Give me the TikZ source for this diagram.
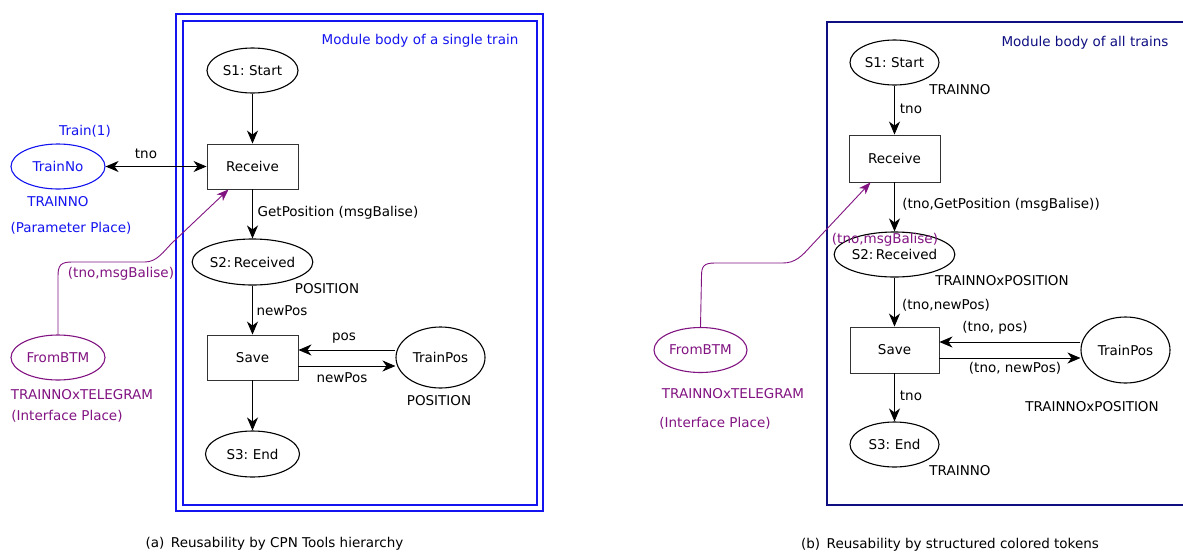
\documentclass[tikz,border=0pt]{standalone}
\usepackage{fontspec}
\setmainfont{DejaVu Sans}
\usetikzlibrary{shapes.geometric,arrows.meta}

\definecolor{pblue}{RGB}{20,20,240}
\definecolor{pnavy}{RGB}{15,15,130}
\definecolor{ppurple}{RGB}{130,20,130}

\tikzset{
  txt/.style={font=\fontsize{13.5}{16}\selectfont, inner sep=0pt},
  place/.style={ellipse, draw, line width=1.1pt, inner sep=0pt, txt},
  trans/.style={rectangle, draw=black!80, line width=0.9pt, inner sep=0pt,
    minimum width=91pt, minimum height=45pt, txt},
  arc/.style={line width=0.9pt, -{Stealth[length=13pt,width=11pt,inset=4pt]}},
  biarc/.style={line width=0.9pt, {Stealth[length=13pt,width=11pt,inset=4pt]}-{Stealth[length=13pt,width=11pt,inset=4pt]}},
  purarc/.style={ppurple, line width=0.9pt, -{Stealth[length=12pt,width=9pt,inset=3.5pt]}},
}

\begin{document}
\begin{tikzpicture}[x=1pt, y=-1pt]
\clip (0,0) rectangle (1183,552);
\fill[white] (0,0) rectangle (1183,552);

% ---------------- (a) hierarchy: module of a single train ----------------
\draw[pblue, line width=2pt] (176,14) rectangle (543,511);
\draw[pblue, line width=2pt] (182.5,20.5) rectangle (536.5,504.5);
\node[txt, text=pblue] (titleA) at (420,41) {Module body of a single train};

\node[place, minimum width=91pt, minimum height=45pt] (S1a) at (252.5,70.5) {S1:\,\,Start};
\node[trans] (Ra) at (252.5,166.5) {Receive};
\node[place, minimum width=103pt, minimum height=46pt] (S2a) at (252.5,262) {S2:\,Received};
\node[trans] (Sa) at (252.5,357.5) {Save};
\node[place, minimum width=89pt, minimum height=61pt] (TPa) at (440.5,357.5) {TrainPos};
\node[place, minimum width=94pt, minimum height=46pt] (S3a) at (252.5,454) {S3:\,\,End};

\node[place, draw=pblue, text=pblue, minimum width=94pt, minimum height=45pt] (TNa) at (58,166.5) {TrainNo};
\node[txt, text=pblue] (trainone) at (85,131) {Train(1)};
\node[txt, text=pblue] (tnoType) at (58,202) {TRAINNO};
\node[txt, text=pblue] (paramPl) at (71,228) {(Parameter Place)};

\node[place, draw=ppurple, text=ppurple, minimum width=94pt, minimum height=45pt] (FBa) at (58,357.5) {FromBTM};
\node[txt, text=ppurple] (fbTypeA) at (82,395) {TRAINNOxTELEGRAM};
\node[txt, text=ppurple] (ifPlA) at (67,416) {(Interface Place)};

\draw[arc] (S1a) -- (Ra);
\draw[biarc] (TNa) -- (Ra);
\draw[arc] (Ra) -- (S2a);
\draw[arc] (S2a) -- (Sa);
\draw[arc] ([yshift=7.5pt]TPa.west) -- ([yshift=7.5pt]Sa.east);
\draw[arc] ([yshift=-8.5pt]Sa.east) -- ([yshift=-8.5pt]TPa.west);
\draw[arc] (Sa) -- (S3a);
\draw[purarc] (FBa.north) -- (58,276) .. controls (58,265) and (61,262) .. (72,262)
  -- (145,262) .. controls (157,262) and (164,251) .. (172,243) -- ([xshift=-24pt]Ra.south);

\node[txt] (lTno) at (146,154) {tno};
\node[txt] (lGet) at (338,213) {GetPosition (msgBalise)};
\node[txt] (lPosA) at (327,289) {POSITION};
\node[txt] (lNewA) at (282,311) {newPos};
\node[txt] (lPos) at (344,338) {pos};
\node[txt] (lNewB) at (342,378) {newPos};
\node[txt] (lPosB) at (439,401) {POSITION};
\node[txt, text=ppurple] (lMsgA) at (121,274) {(tno,msgBalise)};

\node[txt] (capA) at (274.5,544) {(a)\, Reusability by CPN Tools hierarchy};

% ---------------- (b) structured tokens: module of all trains ----------------
\draw[pnavy, line width=2.2pt] (827,22) rectangle (1200,505);
\node[txt, text=pnavy] (titleB) at (1085,43) {Module body of all trains};

\node[place, minimum width=89pt, minimum height=45pt] (S1b) at (894.5,62.5) {S1:\,\,Start};
\node[trans, minimum height=47pt] (Rb) at (894.5,158.5) {Receive};
\node[place, minimum width=100pt, minimum height=45pt] (S2b) at (894.5,254.5) {S2:\,Received};
\node[trans, minimum width=89pt, minimum height=46pt] (Sb) at (894.5,350) {Save};
\node[place, minimum width=89pt, minimum height=66pt] (TPb) at (1125.5,350) {TrainPos};
\node[place, minimum width=89pt, minimum height=45pt] (S3b) at (894.5,444.5) {S3:\,\,End};

\node[place, draw=ppurple, text=ppurple, minimum width=93pt, minimum height=45pt] (FBb) at (700.5,350) {FromBTM};
\node[txt, text=ppurple] (fbTypeB) at (733,394) {TRAINNOxTELEGRAM};
\node[txt, text=ppurple] (ifPlB) at (715,423) {(Interface Place)};

\draw[arc] (S1b) -- (Rb);
\draw[arc] (Rb) -- (S2b);
\draw[arc] (S2b) -- (Sb);
\draw[arc] ([yshift=8pt]TPb.west) -- ([yshift=8pt]Sb.east);
\draw[arc] ([yshift=-8pt]Sb.east) -- ([yshift=-8pt]TPb.west);
\draw[arc] (Sb) -- (S3b);
\draw[purarc] (FBb.north) -- (701.5,276) .. controls (701.5,266) and (704,263) .. (715,263)
  -- (783,263) .. controls (795,263) and (802,256) .. (810,247) -- ([xshift=-24pt]Rb.south);

\node[txt] (mS1b) at (960,90) {TRAINNO};
\node[txt] (mTnoA) at (911,109) {tno};
\node[txt] (mGet) at (1001,205) {(tno,GetPosition (msgBalise))};
\node[txt, text=ppurple] (lMsgB) at (885,240) {(tno,msgBalise)};
\node[txt] (mS2b) at (1002,281) {TRAINNOxPOSITION};
\node[txt] (mNewA) at (946,305) {(tno,newPos)};
\node[txt] (mPos) at (995,328) {(tno, pos)};
\node[txt] (mNewB) at (1015,368) {(tno, newPos)};
\node[txt] (mTPb) at (1092,407) {TRAINNOxPOSITION};
\node[txt] (mTnoB) at (911,396) {tno};
\node[txt] (mS3b) at (960,471) {TRAINNO};

\node[txt] (capB) at (950,545) {(b)\, Reusability by structured colored tokens};
\end{tikzpicture}
\end{document}
